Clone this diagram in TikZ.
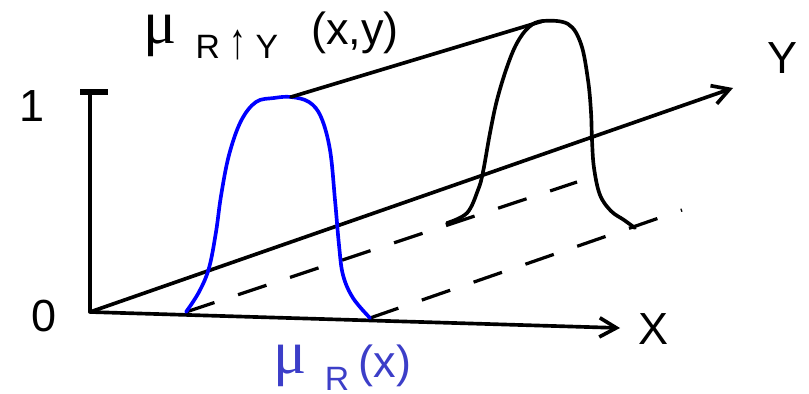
\documentclass[tikz,border=0pt]{standalone}
\usepackage{fontspec}
\setmainfont{Liberation Sans}
\newfontfamily\mufont{Liberation Serif}
\usetikzlibrary{arrows.meta}
\definecolor{curveblue}{RGB}{0,0,255}
\definecolor{labelblue}{RGB}{60,62,200}

\begin{document}
\begin{tikzpicture}[
    x=0.025cm, y=-0.025cm,
    every node/.style={font=\fontsize{32}{38}\selectfont, inner sep=0pt},
    axis/.style={
        line width=2.6pt,
        -{Straight Barb[length=0.42cm, width=0.48cm]}
    },
    stroke/.style={
        line width=2.6pt,
        line cap=round,
        line join=round
    },
    guide/.style={
        line width=2.3pt,
        dash pattern=on 0.75cm off 0.62cm
    },
    mulabel/.style={font=\mufont\fontsize{44}{50}\selectfont},
    sublabel/.style={font=\fontsize{24}{28}\selectfont}
]
\useasboundingbox (0,0) rectangle (809,394);

% Points
\coordinate (O) at (90,312);
\coordinate (xtip) at (620,328);
\coordinate (ytip) at (733,88);
\coordinate (cap) at (90,92);
\coordinate (blueL) at (186,312);
\coordinate (blueR) at (370,318);
\coordinate (blueTop) at (291,97);
\coordinate (blackL) at (447,223);
\coordinate (blackR) at (635,228);
\coordinate (blackTop) at (543,21);
\coordinate (dashA) at (577,182);
\coordinate (dashB) at (682,210);

% Axes
\draw[stroke] (O) -- (cap);
\draw[stroke, line width=4pt, line cap=butt] ([xshift=-7]cap) -- ([xshift=13]cap);
\draw[axis] (O) -- (xtip);
\draw[axis] (O) -- (ytip);

% Dashed traces
\draw[guide] (blueL) -- (dashA);
\draw[guide] (blueR) -- (dashB);

% Curves
\draw[stroke, curveblue] plot[smooth, tension=0.6] coordinates {
    (186,312) (199,292) (209,268) (216,232) (221,196) (229,155)
    (241,121) (256,102) (274,98) (291,97) (309,102) (321,117)
    (330,150) (335,200) (339,245) (343,275) (353,298) (370,318)};
\draw[stroke] plot[smooth, tension=0.6] coordinates {
    (447,223) (467,213) (478,190) (483,172) (490,133) (497,100)
    (507,67) (517,43) (529,27) (543,21) (568,24) (581,44)
    (588,80) (591,112) (592,140) (594,168) (600,195) (611,211)
    (624,220) (635,228)};
\draw[stroke] (blueTop) -- (blackTop);

% Labels
\node (one) at (32,106) {1};
\node (zero) at (44,316) {0};
\node (xlab) at (653,329) {X};
\node (ylab) at (782,58) {Y};
\node[mulabel] (mutop) at (160,36) {μ};
\node[sublabel] (subtop) at (237,45) {R\ \scalebox{1}[1.5]{↑}\ Y};
\node (argtop) at (355,33) {(x,y)};
\node[mulabel, labelblue] (mubot) at (290,366) {μ};
\node[sublabel, labelblue] (subbot) at (337,379) {R};
\node[labelblue] (argbot) at (385,366) {(x)};
\end{tikzpicture}
\end{document}
